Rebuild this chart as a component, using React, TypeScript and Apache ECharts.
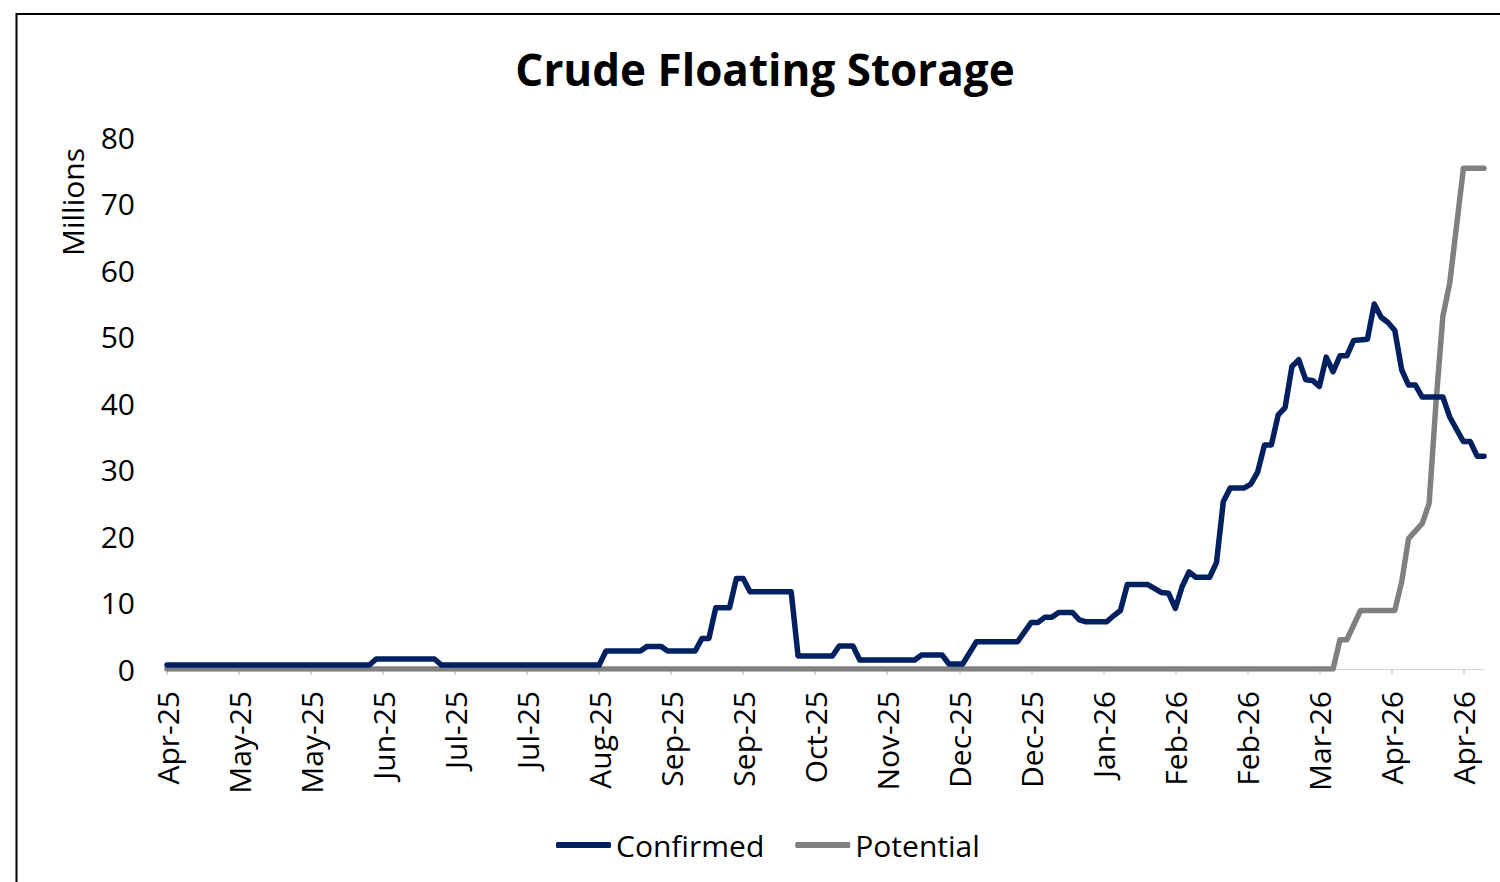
import React, { useEffect, useRef } from "react";
import * as echarts from "echarts";

// Tick labels (one every 21 days, starting at day 0)
const tickLabels = [
  "Apr-25", "May-25", "May-25", "Jun-25", "Jul-25", "Jul-25", "Aug-25", "Sep-25", "Sep-25",
  "Oct-25", "Nov-25", "Dec-25", "Dec-25", "Jan-26", "Feb-26", "Feb-26", "Mar-26", "Apr-26", "Apr-26",
];

// Confirmed series: day offset and value (millions)
const confirmedDays = [
  0, 59, 61, 78, 80, 126, 128, 138, 140, 144, 146, 154, 156, 158, 160, 164, 166, 168, 170, 182,
  184, 194, 196, 200, 202, 218, 220, 226, 228, 232, 236, 248, 252, 254, 256, 258, 260, 264, 266, 268,
  274, 276, 278, 280, 286, 290, 292, 294, 296, 298, 300, 304, 306, 308, 310, 314, 316, 318, 320, 322,
  324, 326, 328, 330, 332, 334, 336, 338, 340, 342, 344, 346, 350, 352, 354, 356, 358, 360, 362, 364,
  366, 372, 374, 378, 380, 382, 384,
];
const confirmedValues = [
  0.6, 0.6, 1.5, 1.5, 0.6, 0.6, 2.7, 2.7, 3.4, 3.4, 2.7, 2.7, 4.6, 4.6, 9.2, 9.2, 13.6, 13.6, 11.6, 11.6,
  1.95, 1.95, 3.45, 3.45, 1.35, 1.35, 2.1, 2.1, 0.75, 0.75, 4.1, 4.1, 7.0, 7.0, 7.8, 7.8, 8.5, 8.5, 7.4, 7.1,
  7.1, 8.0, 8.8, 12.7, 12.7, 11.5, 11.4, 9.1, 12.4, 14.6, 13.8, 13.8, 16.0, 25.2, 27.2, 27.2, 27.8, 29.6, 33.7, 33.7,
  38.2, 39.3, 45.5, 46.5, 43.5, 43.4, 42.5, 46.9, 44.7, 47.1, 47.1, 49.4, 49.6, 54.9, 52.9, 52.1, 50.9, 45.0, 42.7, 42.7,
  40.9, 40.9, 37.9, 34.2, 34.2, 32.0, 32.0,
];

// Potential series
const potentialDays = [0, 340, 342, 344, 348, 358, 360, 362, 366, 368, 370, 372, 374, 378, 384];
const potentialValues = [0, 0, 4.4, 4.4, 8.8, 8.8, 13.1, 19.6, 21.9, 24.9, 40.0, 53.0, 58.0, 75.3, 75.3];

const FONT = "'Open Sans', 'Noto Sans', sans-serif";
const DAYS_PER_TICK = 21;
const MAX_DAY = 384;

export default function App() {
  const ref = useRef<HTMLDivElement>(null);

  useEffect(() => {
    if (!ref.current) return;
    const chart = echarts.init(ref.current, undefined, { renderer: "svg" });
    const tickValues = tickLabels.map((_, i) => i * DAYS_PER_TICK);

    chart.setOption({
      animation: false,
      backgroundColor: "#ffffff",
      textStyle: { fontFamily: FONT },
      grid: { left: 167, right: 16, top: 137, bottom: 213, containLabel: false },
      graphic: [
        {
          type: "rect",
          shape: { x: 16.5, y: 14, width: 1600, height: 1000 },
          style: { fill: "none", stroke: "#000000", lineWidth: 2 },
          silent: true,
        },
        {
          type: "text",
          x: 765,
          y: 69,
          style: {
            text: "Crude Floating Storage",
            fontFamily: FONT,
            fontWeight: "bold",
            fontSize: 44,
            fill: "#000000",
            textAlign: "center",
            textVerticalAlign: "middle",
          },
        },
        {
          type: "text",
          x: 72,
          y: 202,
          rotation: Math.PI / 2,
          style: {
            text: "Millions",
            fontFamily: FONT,
            fontSize: 30,
            fill: "#000000",
            textAlign: "center",
            textVerticalAlign: "middle",
          },
        },
      ],
      legend: {
        left: 556,
        top: 829,
        padding: 0,
        icon: "roundRect",
        itemWidth: 55,
        itemHeight: 6,
        itemGap: 31,
        textStyle: { fontFamily: FONT, fontSize: 30, color: "#000000", lineHeight: 32 },
        data: ["Confirmed", "Potential"],
      },
      xAxis: {
        type: "value",
        min: 0,
        max: MAX_DAY,
        interval: DAYS_PER_TICK,
        splitLine: { show: false },
        axisLine: { show: true, lineStyle: { color: "#d9d9d9", width: 1 } },
        axisTick: {
          show: true,
          length: 6,
          lineStyle: { color: "#d9d9d9", width: 2 },
          customValues: tickValues,
        },
        axisLabel: {
          rotate: 90,
          margin: 22,
          fontFamily: FONT,
          fontSize: 30,
          color: "#000000",
          customValues: tickValues,
          formatter: (v: number) => {
            const i = Math.round(v / DAYS_PER_TICK);
            return Math.abs(v - i * DAYS_PER_TICK) < 0.01 && tickLabels[i] ? tickLabels[i] : "";
          },
        },
      },
      yAxis: {
        type: "value",
        min: 0,
        max: 80,
        interval: 10,
        splitLine: { show: false },
        axisLine: { show: false },
        axisTick: { show: false },
        axisLabel: { margin: 32, fontFamily: FONT, fontSize: 30, color: "#000000" },
      },
      series: [
        {
          name: "Potential",
          type: "line",
          symbol: "none",
          z: 2,
          lineStyle: { color: "#808080", width: 5.5, cap: "round", join: "round" },
          itemStyle: { color: "#808080" },
          data: potentialDays.map((d, i) => [d, potentialValues[i]]),
        },
        {
          name: "Confirmed",
          type: "line",
          symbol: "none",
          z: 3,
          lineStyle: { color: "#002060", width: 5.5, cap: "round", join: "round" },
          itemStyle: { color: "#002060" },
          data: confirmedDays.map((d, i) => [d, confirmedValues[i]]),
        },
      ],
    });

    return () => chart.dispose();
  }, []);

  return (
    <div
      ref={ref}
      style={{ position: "absolute", left: 0, top: 0, width: 1500, height: 882 }}
    />
  );
}
